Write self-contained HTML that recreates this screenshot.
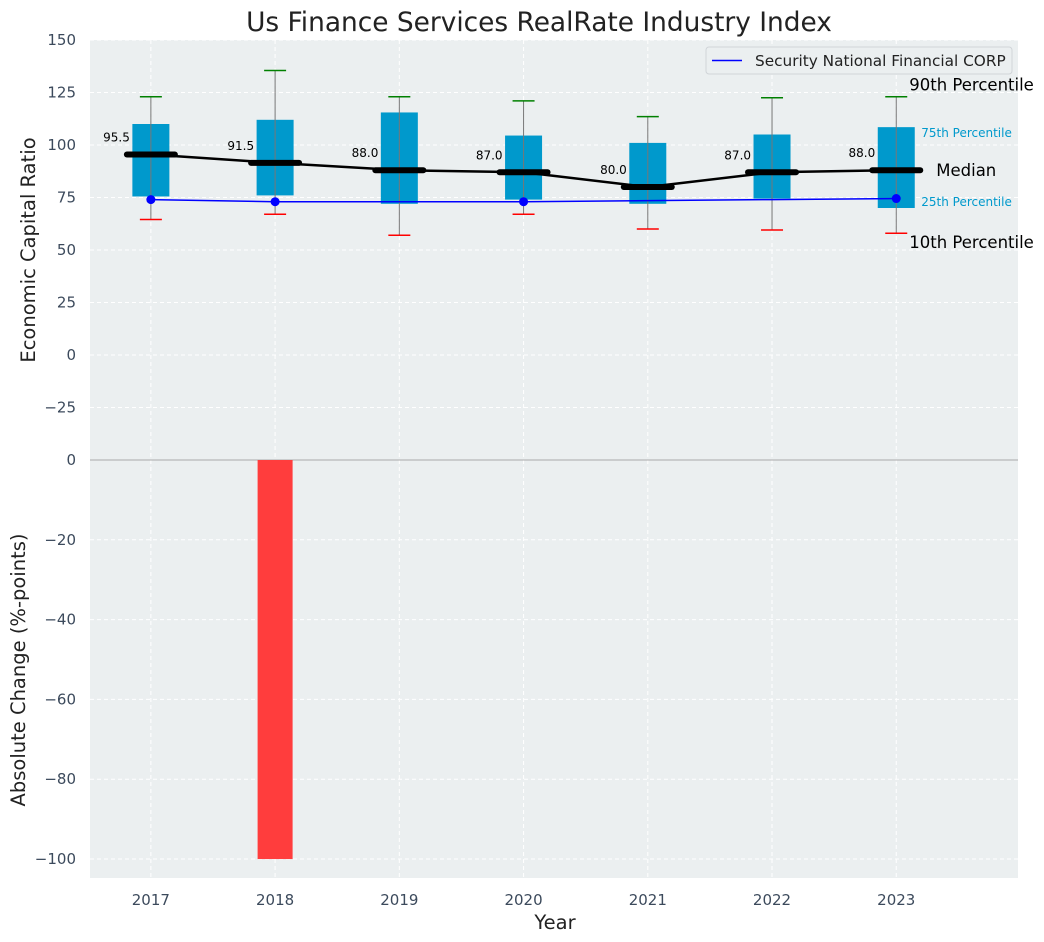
<!DOCTYPE html>
<html><head><meta charset="utf-8"><style>
body{margin:0;background:#fff;}
svg{display:block;font-family:"DejaVu Sans","Liberation Sans",sans-serif;}
</style></head><body>
<svg id="c" width="1044" height="942"></svg>
<script>
const years=[2017,2018,2019,2020,2021,2022,2023];
const p10=[64.5,67,57,67,60,59.5,58];
const q1=[75.5,76,72,74,72,74.5,70];
const med=[95.5,91.5,88,87,80,87,88];
const q3=[110,112,115.5,104.5,101,105,108.5];
const p90=[123,135.5,123,121,113.5,122.5,123];
const company=[74,73,73,73,73.5,74,74.5];
const companyDots=[true,true,false,true,false,false,true];
const change=[0,-100,0,0,0,0,0];
const topTicks=[150,125,100,75,50,25,0,-25];
const botTicks=[0,-20,-40,-60,-80,-100];

const svg=document.getElementById('c');const NS='http://www.w3.org/2000/svg';
function mk(t,a,p,txt){const e=document.createElementNS(NS,t);for(const k in a)e.setAttribute(k,a[k]);if(txt!=null)e.textContent=txt;(p||svg).appendChild(e);return e;}
const L=90,R=1018;
const x=v=>L+(v-2016.51)*(R-L)/(2023.98-2016.51);
const yT=v=>40+(150-v)*420/200;
const yB=v=>460+(0-v)*418/104.75;

let e=mk('rect',{x:L,y:40,width:R-L,height:420,fill:'#ebeff0'});

e=mk('rect',{x:L,y:460,width:R-L,height:418,fill:'#ebeff0'});

years.forEach(yr=>{mk('line',{x1:x(yr),x2:x(yr),y1:40,y2:878,stroke:'#fff','stroke-dasharray':'4,3','stroke-width':1});});
topTicks.forEach(t=>{mk('line',{x1:L,x2:R,y1:yT(t),y2:yT(t),stroke:'#fff','stroke-dasharray':'4,3'});
 e=mk('text',{x:L-14,y:yT(t)+5,'text-anchor':'end','font-size':15,fill:'#3c4a5c'},null,String(t).replace('-','−'));
 });
botTicks.forEach(t=>{mk('line',{x1:L,x2:R,y1:yB(t),y2:yB(t),stroke:'#fff','stroke-dasharray':'4,3'});
 e=mk('text',{x:L-14,y:yB(t)+5,'text-anchor':'end','font-size':15,fill:'#3c4a5c'},null,String(t).replace('-','−'));
 });
years.forEach(yr=>{e=mk('text',{x:x(yr),y:905,'text-anchor':'middle','font-size':15,fill:'#3c4a5c'},null,yr);
 });
mk('line',{x1:L,x2:R,y1:460,y2:460,stroke:'#aaa','stroke-width':1});

years.forEach((yr,i)=>{const y0=yB(0),y1=yB(change[i]);
 e=mk('rect',{x:x(yr)-17.5,y:Math.min(y0,y1),width:35,height:Math.abs(y1-y0),fill:'#ff3d3d'});
 });

years.forEach((yr,i)=>{const cx=x(yr);
 const g=mk('g',{});
 mk('rect',{x:cx-18.5,y:yT(q3[i]),width:37,height:yT(q1[i])-yT(q3[i]),fill:'#0099cc'},g);
 mk('line',{x1:cx,x2:cx,y1:yT(p90[i]),y2:yT(p10[i]),stroke:'#777','stroke-width':1},g);
 mk('line',{x1:cx-11,x2:cx+11,y1:yT(p90[i]),y2:yT(p90[i]),stroke:'green','stroke-width':1.5},g);
 mk('line',{x1:cx-11,x2:cx+11,y1:yT(p10[i]),y2:yT(p10[i]),stroke:'red','stroke-width':1.5},g);
});
e=mk('polyline',{points:years.map((yr,i)=>x(yr)+','+yT(med[i])).join(' '),fill:'none',stroke:'#000','stroke-width':2.5});

years.forEach((yr,i)=>{const cx=x(yr);
 e=mk('line',{x1:cx-24,x2:cx+24,y1:yT(med[i]),y2:yT(med[i]),stroke:'#000','stroke-width':6,'stroke-linecap':'round'});
 
 e=mk('text',{x:cx-21,y:yT(med[i])-13,'text-anchor':'end','font-size':12,fill:'#000'},null,med[i].toFixed(1));
 });
e=mk('polyline',{points:years.map((yr,i)=>x(yr)+','+yT(company[i])).join(' '),fill:'none',stroke:'#0000ff','stroke-width':1.5});

years.forEach((yr,i)=>{if(companyDots[i]){e=mk('circle',{cx:x(yr),cy:yT(company[i]),r:4.5,fill:'#0000ff'});
 }});
const lx=x(2023);
[[lx+13,yT(p90[6])-6,'90th Percentile',16.5,'#000'],[lx+25,yT(q3[6])+10,'75th Percentile',12,'#0099cc'],
 [lx+40,yT(med[6])+6,'Median',16.5,'#000'],[lx+25,yT(q1[6])-2,'25th Percentile',12,'#0099cc'],
 [lx+13,yT(p10[6])+15,'10th Percentile',16.5,'#000']].forEach(a=>{
 e=mk('text',{x:a[0],y:a[1],'font-size':a[3],fill:a[4]},null,a[2]);
 });
const lg=mk('g',{});
mk('rect',{x:706,y:47,width:306,height:27,rx:3,fill:'#ebeff0',stroke:'#d0d4d8'},lg);
mk('line',{x1:712,x2:742,y1:60.5,y2:60.5,stroke:'#0000ff','stroke-width':1.5},lg);
mk('text',{x:755,y:66,'font-size':15.3,fill:'#222'},lg,'Security National Financial CORP');
e=mk('text',{x:539,y:31,'text-anchor':'middle','font-size':26.4,fill:'#222'},null,'Us Finance Services RealRate Industry Index');

e=mk('text',{x:555,y:929,'text-anchor':'middle','font-size':19.5,fill:'#222'},null,'Year');

e=mk('text',{x:35,y:250,'text-anchor':'middle','font-size':19.5,fill:'#222',transform:'rotate(-90 35 250)'},null,'Economic Capital Ratio');

e=mk('text',{x:25,y:670,'text-anchor':'middle','font-size':19.5,fill:'#222',transform:'rotate(-90 25 670)'},null,'Absolute Change (%-points)');

</script>
</body></html>
